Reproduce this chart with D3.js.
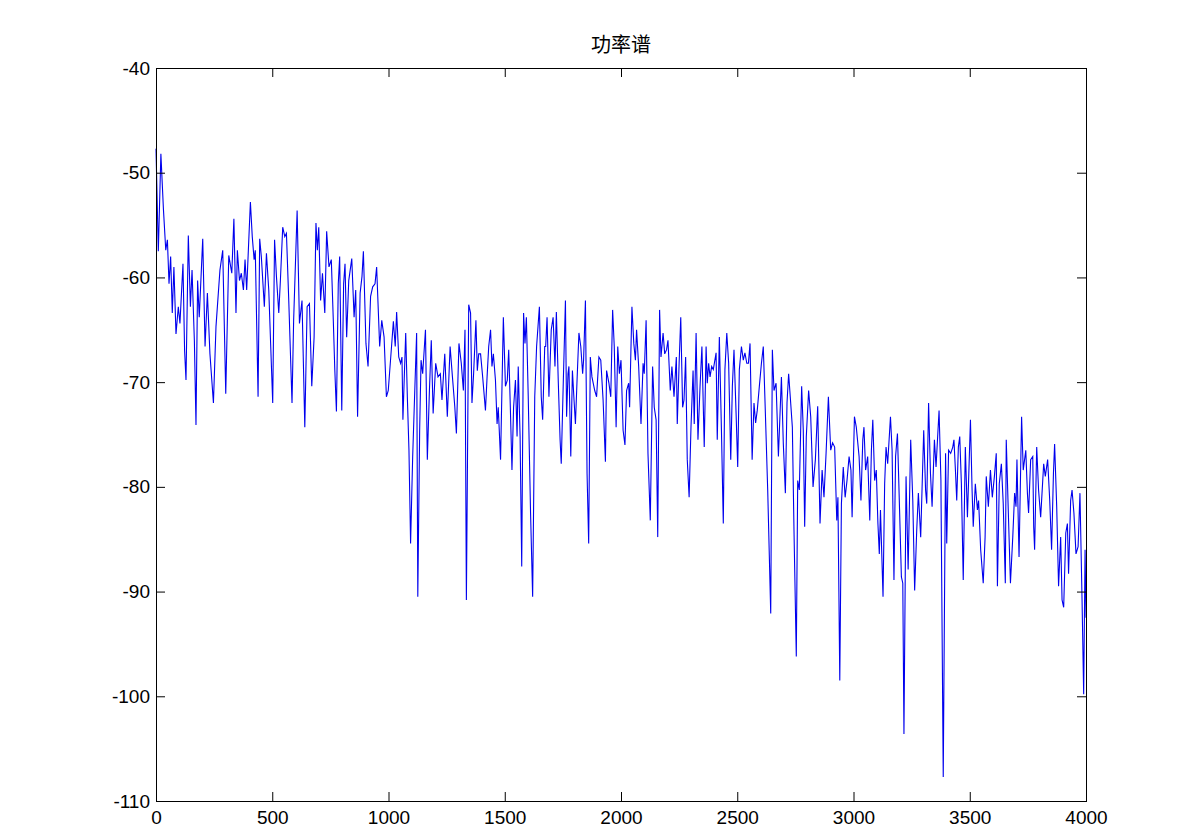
<!DOCTYPE html>
<html><head><meta charset="utf-8">
<script src="https://cdn.jsdelivr.net/npm/d3@7/dist/d3.min.js"></script>
<style>html,body{margin:0;padding:0;background:#fff;}svg{display:block;}</style>
</head><body>
<svg id="chart" width="1201" height="828"></svg>
<script>
const titleText = "功率谱";
const xTicks = [0, 500, 1000, 1500, 2000, 2500, 3000, 3500, 4000];
const yTicks = [-40, -50, -60, -70, -80, -90, -100, -110];

const freqHz = [
0,10,21,32,42,49,56,63,70,77,86,96,103,116,123,129,139,148,155,165,172,179,186,201,211,221,232,247,258,275,287,300,313,326,335,
344,350,359,367,376,383,390,406,414,422,427,439,446,453,466,475,485,493,502,510,518,528,535,545,554,561,571,585,592,607,617,628,640,650,660,
670,680,688,694,700,708,716,726,734,744,754,763,769,776,784,790,799,807,813,820,829,842,852,859,867,878,886,892,903,912,923,932,942,949,962,971,981,991,999,
1012,1021,1029,1035,1044,1052,1058,1062,1074,1081,1088,1095,1104,1113,1121,1126,1134,1140,1147,1159,1167,1176,1184,1192,1203,1213,1223,1230,1242,1253,1265,1275,1285,1292,1303,1313,1322,1329,1335,
1345,1353,1359,1366,1376,1382,1388,1396,1405,1417,1424,1431,1439,1445,1451,1460,1467,1472,1482,1494,1503,1511,1517,1524,1531,1538,1546,1553,1558,1566,1573,1581,1587,1593,1601,1611,1620,1629,1637,1643,1649,1657,1663,1672,
1676,1682,1690,1700,1708,1716,1722,1730,1738,1743,1752,1761,1766,1772,1776,1784,1791,1798,1804,1811,1819,1827,1835,1839,1847,1854,1861,1868,1875,1887,1895,1905,1913,1923,1933,1938,1948,1956,1964,1971,1979,1986,1993,2000,2009,
2017,2024,2033,2037,2047,2055,2062,2067,2076,2086,2095,2100,2108,2116,2126,2136,2143,2151,2158,2166,2172,2181,2188,2196,2202,2212,2219,2228,2238,2242,2250,2257,2265,2271,2278,2285,2293,2301,2310,2315,2323,2331,2340,
2348,2358,2366,2371,2377,2383,2390,2397,2409,2414,2423,2432,2440,2447,2455,2463,2472,2479,2486,2495,2502,2509,2518,2526,2533,2541,2548,2555,2564,2572,2579,2586,2595,2604,2612,2621,2631,2644,2651,2658,2667,2677,
2690,2698,2707,2714,2721,2728,2737,2744,2754,2760,2767,2777,2784,2790,2797,2807,2816,2826,2836,2846,2856,2865,2873,2882,2892,2902,2910,2919,2928,2933,2941,2948,2956,2964,2972,2981,2989,2994,3004,3012,
3024,3032,3040,3045,3052,3061,3070,3077,3083,3091,3098,3105,3111,3116,3127,3134,3140,3147,3159,3166,3174,3181,3189,3197,3206,3212,3217,3226,3235,3246,3255,3263,3272,3279,3289,3302,3310,3315,3323,3331,3338,3348,
3355,3368,3376,3386,3396,3401,3409,3418,3427,3432,3439,3444,3451,3457,3464,3472,3481,3490,3495,3503,3510,3515,3524,3533,3538,3547,3558,3566,3571,3580,3589,3597,3606,3614,3619,3627,3636,3644,3653,3657,3666,3675,3685,
3693,3699,3703,3712,3723,3730,3741,3748,3753,3762,3771,3775,3779,3788,3796,3805,3818,3825,3835,3844,3852,3860,3865,3874,3882,3891,3897,3904,3913,3920,3925,3934,3940,3948,3957,3966,3974,3983,3990,3996,4000
];

const powerDb = [
-47.7,-57.5,-48.2,-53.5,-57.4,-56.4,-60.6,-58,-63.4,-59,-65.4,-62.8,-64.4,-58.7,-67,-69.8,-56,-62.8,-59.3,-66,-74.1,-60.3,-63.8,-56.3,-66.6,-61.5,-67.3,-72,-64.7,-59.3,-57.4,-71.1,-57.9,-59.6,-54.4,
-63.4,-57.4,-60.3,-59.6,-61.2,-58.3,-61.2,-52.8,-56.1,-58.3,-57.4,-71.4,-56.3,-58,-62.8,-57.7,-61.2,-66.3,-72,-56.4,-59.9,-63.4,-60.3,-55.2,-56.1,-55.8,-62.2,-72,-64.1,-53.6,-64.4,-62.2,-74.3,-62.8,-62.5,
-70.4,-65.7,-54.8,-57.4,-55.2,-62.2,-59.6,-63.4,-55.6,-59,-58.3,-64.4,-68.8,-72.8,-60.6,-58,-72.7,-60.6,-58.7,-65.7,-60.3,-58.2,-63.8,-61.2,-73.3,-61.5,-59.9,-57.5,-66.3,-68.5,-61.8,-60.9,-60.6,-59,-66.6,-64.1,-65.7,-71.4,-70.8,
-66.9,-64.2,-66.6,-63.3,-67.6,-68.2,-67.6,-73.6,-65.3,-71.4,-76.5,-85.4,-77.1,-70.8,-65.3,-90.5,-74.6,-67.9,-69.2,-65,-77.4,-70.8,-66,-73,-68.2,-69.5,-69.2,-71.7,-67.3,-73.3,-66.6,-69.5,-72.3,-74.9,-66.3,-68.2,-70.8,-65,-90.8,
-62.6,-63.4,-72,-69.2,-64.1,-68.9,-67.3,-67.3,-69.5,-72.7,-69.5,-66.6,-65,-68.5,-67.3,-69.8,-74,-72.4,-77.4,-63.8,-70.4,-69.8,-66.9,-72.4,-78.4,-72.4,-69.8,-75.2,-68.5,-75.2,-87.6,-63.4,-66.3,-63.8,-71.4,-82.5,-90.5,-71.4,-66.6,-64.7,-62.8,-71.4,-73.6,-66.6,
-66.6,-63.8,-71.4,-65,-63.8,-68.5,-63.3,-69.8,-75.5,-77.8,-69.8,-62.2,-73.3,-69.2,-68.5,-77.1,-68.9,-71.7,-74,-69.8,-65.3,-66.6,-69.2,-67.9,-62.2,-78.7,-85.4,-67.6,-69.5,-70.8,-71.4,-67.6,-67.9,-71.7,-77.6,-68.9,-70.1,-71.4,-63.1,-66.6,-74.3,-66.6,-69.2,-67.9,-74.6,
-76,-70.8,-70.1,-72.4,-62.8,-66.3,-67.9,-65,-68.5,-74,-68.2,-69.2,-64.1,-76.8,-83.2,-68.5,-72.4,-73.6,-84.8,-63.1,-67.6,-65.3,-67.3,-66.9,-66,-70.8,-68.5,-71.4,-67.6,-74,-68.2,-63.8,-72.4,-71.7,-67.6,-77.4,-81,-74.3,-68.9,-74,-65.3,-75.5,-70.4,
-66.6,-76.2,-66.6,-70.1,-68.2,-69.5,-68.5,-68.8,-67.2,-75.5,-65.7,-74.6,-83.5,-68.8,-65.3,-68.2,-77.4,-70.4,-66.9,-73,-78.1,-68.8,-66.6,-67.9,-67.2,-68.2,-68.2,-66.3,-77.4,-72,-73.9,-72.7,-70.4,-68.2,-66.6,-73,-80.3,-92.1,-66.9,-70.8,-70.1,-77.1,
-69.5,-75.8,-80.6,-72,-69.2,-71.4,-74.3,-84.1,-96.2,-79.4,-80.3,-70.4,-74.6,-83.8,-75.2,-70.8,-73.3,-80,-77.4,-72.3,-83.5,-78.4,-81,-76.8,-71.4,-76.5,-75.8,-76.2,-83.2,-81,-98.5,-81.6,-78.1,-81,-79.4,-77.1,-78.4,-82.9,-73.3,-74.3,
-77.1,-81.3,-75.5,-74.3,-78.4,-77.1,-83.2,-76.5,-73.6,-79.4,-78.4,-83.5,-86.4,-82.2,-90.5,-79.7,-76.2,-77.8,-73.3,-76.5,-88.9,-77.1,-74.9,-81.3,-88.6,-89.2,-103.6,-79,-87.9,-75.5,-81.3,-89.9,-84.1,-80.6,-84.8,-74.6,-80.3,-81.6,-72,-78.7,-81.9,-75.5,
-78.1,-72.7,-79.4,-107.7,-76.8,-85.4,-76.5,-76.8,-76.2,-75.5,-78.7,-81.3,-76.2,-75.2,-79.7,-88.9,-76.2,-82.9,-79.4,-73.6,-80.3,-83.8,-79.7,-82.2,-81.3,-86,-89.2,-84.8,-79,-81.9,-78.4,-81,-79,-76.8,-89.5,-79.7,-77.8,-81.6,-89.2,-75.5,-82.5,-89.2,-84.8,
-80.6,-81.9,-77.4,-86.7,-73.3,-78.4,-76.5,-80.6,-82.5,-77.4,-77.1,-83.8,-86,-76.2,-80.3,-82.9,-77.8,-79,-77.4,-81.3,-86,-78.7,-75.9,-81.9,-89.5,-84.8,-90.8,-91.5,-84.4,-83.5,-88.3,-81.3,-80.3,-82.5,-86.4,-85.7,-80.6,-90.8,-99.8,-86,-92.5
];

const W = 1201, H = 828;
const plotL = 156, plotR = 1086, plotT = 68, plotB = 801;
const svg = d3.select("#chart");
svg.append("rect").attr("width", W).attr("height", H).attr("fill", "#fff");

const x = d3.scaleLinear().domain([0, 4000]).range([plotL, plotR]);
const y = d3.scaleLinear().domain([-110, -40]).range([plotB, plotT]);

const pts = freqHz.map((f, i) => [f, powerDb[i]]);

svg.append("path")
  .datum(pts)
  .attr("fill", "none")
  .attr("stroke", "#0000ee")
  .attr("stroke-width", 1.1)
  .attr("stroke-linejoin", "miter")
  .attr("d", d3.line().x(d => x(d[0])).y(d => y(d[1])));

const font = "'Liberation Sans', Arial, Helvetica, sans-serif";
const tickLen = 9;
const fmt = d => String(d);

function styleAxis(g, showText) {
  g.select(".domain").remove();
  g.selectAll(".tick line").attr("stroke", "#000").attr("stroke-width", 1);
  g.selectAll(".tick text").attr("fill", "#000").style("font-family", font).style("font-size", "19px");
  if (!showText) g.selectAll(".tick text").remove();
}

svg.append("g").attr("transform", `translate(0,${plotB})`)
  .call(d3.axisBottom(x).tickValues(xTicks).tickFormat(fmt).tickSizeInner(-tickLen).tickSizeOuter(0).tickPadding(10))
  .call(g => styleAxis(g, true));
svg.append("g").attr("transform", `translate(0,${plotT})`)
  .call(d3.axisTop(x).tickValues(xTicks).tickSizeInner(-tickLen).tickSizeOuter(0))
  .call(g => styleAxis(g, false));
svg.append("g").attr("transform", `translate(${plotL},0)`)
  .call(d3.axisLeft(y).tickValues(yTicks).tickFormat(fmt).tickSizeInner(-tickLen).tickSizeOuter(0).tickPadding(6))
  .call(g => styleAxis(g, true));
svg.append("g").attr("transform", `translate(${plotR},0)`)
  .call(d3.axisRight(y).tickValues(yTicks).tickSizeInner(-tickLen).tickSizeOuter(0))
  .call(g => styleAxis(g, false));

svg.append("rect")
  .attr("x", plotL + 0.5).attr("y", plotT + 0.5)
  .attr("width", plotR - plotL).attr("height", plotB - plotT)
  .attr("fill", "none").attr("stroke", "#000").attr("stroke-width", 1);

svg.append("text")
  .attr("x", (plotL + plotR) / 2).attr("y", 52)
  .attr("text-anchor", "middle")
  .style("font-family", "'Noto Sans CJK SC', sans-serif")
  .style("font-size", "20px")
  .attr("fill", "#000")
  .text(titleText);
</script>
</body></html>
